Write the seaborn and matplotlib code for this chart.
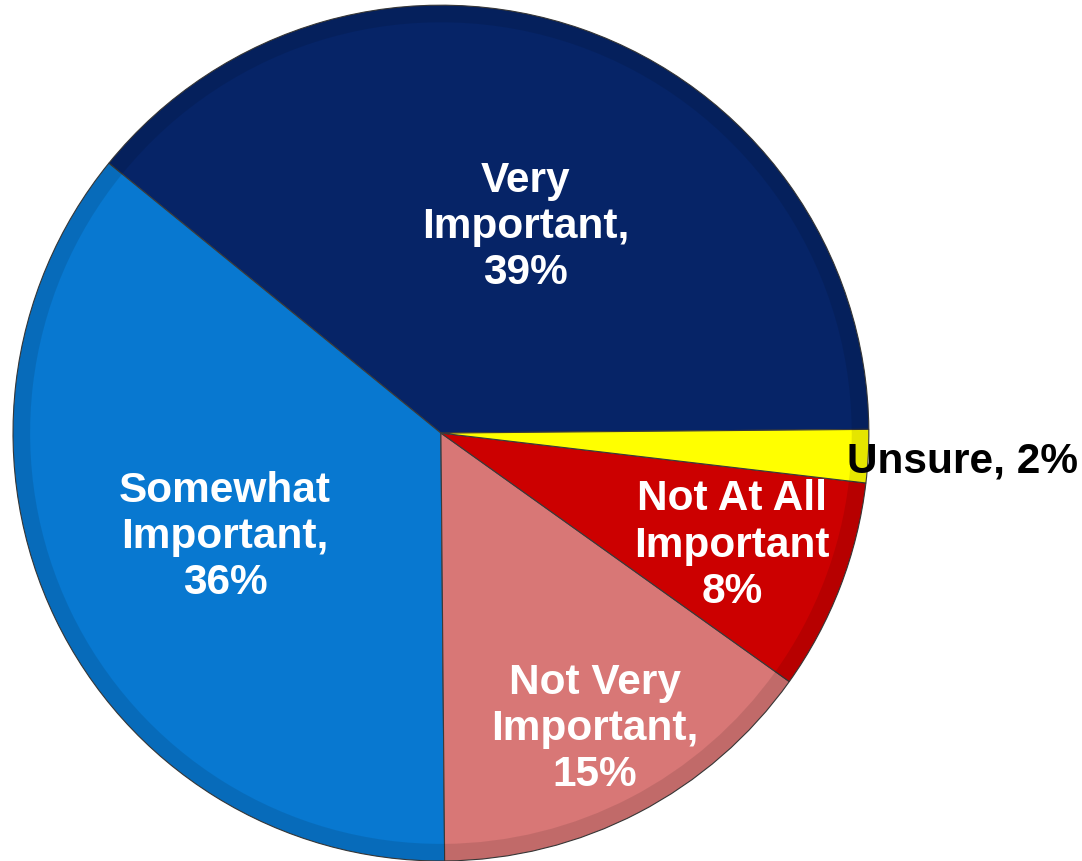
import matplotlib
matplotlib.use("Agg")
import matplotlib.pyplot as plt
import numpy as np
import seaborn as sns

# survey answers, counterclockwise from 3 o'clock
categories = ["Very\nImportant,", "Somewhat\nImportant,", "Not Very\nImportant,",
              "Not At All\nImportant", "Unsure,"]
shares = [39, 36, 15, 8, 2]
colors = ["#062467", "#0878d0", "#d87776", "#cc0000", "#ffff00"]
text_colors = ["white", "white", "white", "white", "black"]
# how far out each label sits (fraction of radius)
label_dist = [0.52, 0.56, 0.78, 0.73, 1.22]
label_shift = [-3, 0, 0, 0, 0]

sns.set_theme(style="white")
plt.rcParams["font.family"] = ["Liberation Sans", "DejaVu Sans"]

fig = plt.figure(figsize=(10.82, 8.61), dpi=100)
ax = fig.add_axes([0.012, 0.0, 0.791, 0.994])

wedges, _ = ax.pie(shares, colors=colors, startangle=0.5, counterclock=True,
                   radius=1.0, wedgeprops=dict(edgecolor="#3a3a3a", linewidth=0.8))

# soft rim to hint at the bevel
rim, _ = ax.pie(shares, colors=[(0, 0, 0, 0.1)] * len(shares), startangle=0.5,
                radius=1.0, wedgeprops=dict(width=0.04, edgecolor="none"))

for w, cat, pct, tc, d, s in zip(wedges, categories, shares, text_colors, label_dist, label_shift):
    ang = np.deg2rad((w.theta1 + w.theta2) / 2 + s)
    x, y = d * np.cos(ang), d * np.sin(ang)
    if cat.startswith("Unsure"):
        txt = f"{cat} {pct}%"
    else:
        txt = f"{cat}\n{pct}%"
    ax.text(x, y, txt, ha="center", va="center", color=tc, fontsize=30.5,
            fontweight="bold", linespacing=1.2)

ax.set_xlim(-1, 1)
ax.set_ylim(-1, 1)
ax.set_aspect("equal")
ax.axis("off")

fig.savefig("out.png", dpi=100)
